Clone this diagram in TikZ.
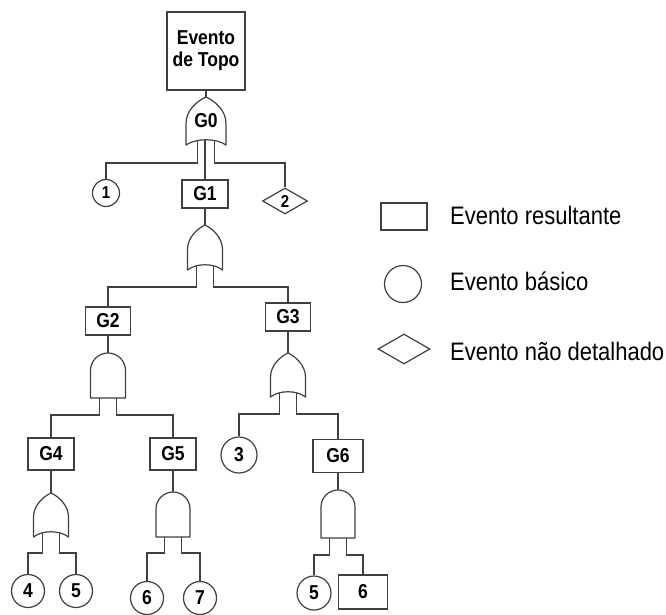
\documentclass[tikz,border=0pt]{standalone}
\usepackage{fontspec}
\usepackage{graphicx}
\usetikzlibrary{shapes.geometric}
\newfontfamily\arialfont{Liberation Sans}
\pgfdeclarelayer{background}
\pgfsetlayers{background,main}

% slightly taller glyphs, as in the drawing
\newcommand{\tall}[1]{\scalebox{1}[1.15]{#1}}

% OR gate: #1 name, #2 centre x, #3 apex y, #4 width, #5 height
\newcommand{\orgate}[5]{%
  \draw[gate] ({#2-#4/2},{#3+#5}) -- ({#2-#4/2},{#3+0.55*#5})
    .. controls ({#2-#4/2},{#3+0.28*#5}) and ({#2-0.22*#4},{#3+0.08*#5}) .. (#2,#3)
    .. controls ({#2+0.22*#4},{#3+0.08*#5}) and ({#2+#4/2},{#3+0.28*#5}) .. ({#2+#4/2},{#3+0.55*#5})
    -- ({#2+#4/2},{#3+#5})
    .. controls ({#2+0.25*#4},{#3+#5-7}) and ({#2-0.25*#4},{#3+#5-7}) .. cycle;
  \coordinate (#1) at (#2,#3);
  \coordinate (#1-a) at ({#2-8.5},{#3+#5-8});
  \coordinate (#1-b) at ({#2+8.5},{#3+#5-8});
  \coordinate (#1-m) at ({#2-1},{#3+#5-8});
}
% AND gate: #1 name, #2 centre x, #3 top y, #4 width, #5 height
\newcommand{\andgate}[5]{%
  \draw[gate] ({#2-#4/2},{#3+#5}) -- ({#2-#4/2},{#3+#4/2})
    .. controls ({#2-#4/2},{#3+#4/2-0.5523*#4/2}) and ({#2-0.5523*#4/2},#3) .. (#2,#3)
    .. controls ({#2+0.5523*#4/2},#3) and ({#2+#4/2},{#3+#4/2-0.5523*#4/2}) .. ({#2+#4/2},{#3+#4/2})
    -- ({#2+#4/2},{#3+#5}) -- cycle;
  \coordinate (#1) at (#2,#3);
  \coordinate (#1-a) at ({#2-8.5},{#3+#5-6});
  \coordinate (#1-b) at ({#2+8.5},{#3+#5-6});
}

\tikzset{
  wire/.style={draw=black!75, line width=1.2pt},
  gate/.style={draw=black!75, line width=1.2pt, fill=white, line join=round},
  lbl/.style={font=\arialfont\bfseries\fontsize{17.5}{22}\selectfont, text=black},
  small/.style={font=\arialfont\bfseries\fontsize{15}{18}\selectfont, text=black},
  eventbox/.style={lbl, draw=black!75, line width=1.2pt, fill=white, rectangle, inner sep=0pt},
  basic/.style={draw=black!75, line width=1.2pt, fill=white, circle, inner sep=0pt},
  undev/.style={draw=black!75, line width=1.2pt, fill=white, diamond, inner sep=0pt},
  legendtext/.style={font=\arialfont\fontsize{22}{26}\selectfont, anchor=base west, inner sep=0pt}
}

\begin{document}
\begin{tikzpicture}[x=1pt, y=-1pt]
\useasboundingbox (0,0) rectangle (666,615);

% ---- events ----
\node[eventbox, minimum width=78pt, minimum height=78pt, align=center] (top) at (206,51) {\tall{Evento}\\\tall{de Topo}};
\node[eventbox, minimum width=46pt, minimum height=28pt] (g1) at (205,194) {\tall{G1}};
\node[basic, small, minimum size=27pt] (c1) at (106,193) {\tall{1}};
\node[undev, small, minimum width=45pt, minimum height=26pt] (d2) at (285,201) {\tall{2}};
\node[eventbox, minimum width=45pt, minimum height=28pt] (g2) at (108,321) {\tall{G2}};
\node[eventbox, minimum width=45pt, minimum height=28pt] (g3) at (288,317) {\tall{G3}};
\node[eventbox, minimum width=46pt, minimum height=32pt] (g4) at (51,454) {\tall{G4}};
\node[eventbox, minimum width=46pt, minimum height=32pt] (g5) at (173,454) {\tall{G5}};
\node[basic, lbl, minimum size=36pt] (c3) at (239,455) {\tall{3}};
\node[eventbox, minimum width=50pt, minimum height=33pt] (g6) at (338,456) {\tall{G6}};
\node[basic, lbl, minimum size=33pt] (c4) at (28,591) {\tall{4}};
\node[basic, lbl, minimum size=33pt] (c5a) at (76,591) {\tall{5}};
\node[basic, lbl, minimum size=33pt] (c6) at (147,598) {\tall{6}};
\node[basic, lbl, minimum size=33pt] (c7) at (200,598) {\tall{7}};
\node[basic, lbl, minimum size=34pt] (c5b) at (314,593) {\tall{5}};
\node[eventbox, minimum width=49pt, minimum height=34pt] (b6) at (363,592) {\tall{6}};

% ---- gates ----
\orgate{or0}{206}{97}{40}{48}
\node[lbl] (g0) at (206,121) {\tall{G0}};
\orgate{or1}{205}{225}{35}{45}
\andgate{and2}{108}{353}{35}{45}
\orgate{or3}{288}{353}{35}{44}
\orgate{or4}{51}{493}{35}{44}
\andgate{and5}{173}{492}{34}{45}
\andgate{and6}{338}{490}{34}{48}

% ---- connectors ----
\begin{pgfonlayer}{background}
\draw[wire] (top.south) -- (or0);
\draw[wire] (or0-a) -- (or0-a |- 0,163) -| (c1.north);
\draw[wire] (or0-m) -- (g1.north);
\draw[wire] (or0-b) -- (or0-b |- 0,163) -| (d2.north);

\draw[wire] (g1.south) -- (or1);
\draw[wire] (or1-a) -- (or1-a |- 0,287) -| (g2.north);
\draw[wire] (or1-b) -- (or1-b |- 0,287) -| (g3.north);

\draw[wire] (g2.south) -- (and2);
\draw[wire] (and2-a) -- (and2-a |- 0,415) -| (g4.north);
\draw[wire] (and2-b) -- (and2-b |- 0,415) -| (g5.north);

\draw[wire] (g3.south) -- (or3);
\draw[wire] (or3-a) -- (or3-a |- 0,414) -| (c3.north);
\draw[wire] (or3-b) -- (or3-b |- 0,414) -| (g6.north);

\draw[wire] (g4.south) -- (or4);
\draw[wire] (or4-a) -- (or4-a |- 0,553) -| (c4.north);
\draw[wire] (or4-b) -- (or4-b |- 0,553) -| (c5a.north);

\draw[wire] (g5.south) -- (and5);
\draw[wire] (and5-a) -- (and5-a |- 0,553) -| (c6.north);
\draw[wire] (and5-b) -- (and5-b |- 0,553) -| (c7.north);

\draw[wire] (g6.south) -- (and6);
\draw[wire] (and6-a) -- (and6-a |- 0,555) -| (c5b.north);
\draw[wire] (and6-b) -- (and6-b |- 0,555) -| (b6.north);
\end{pgfonlayer}

% ---- legend ----
\node[eventbox, minimum width=46pt, minimum height=27pt] (keybox) at (404,216.5) {};
\node[legendtext] (keyboxtext) at (450,224) {\tall{Evento resultante}};
\node[basic, minimum size=37pt] (keycircle) at (403,284) {};
\node[legendtext] (keycircletext) at (450,290) {\tall{Evento básico}};
\node[undev, minimum width=52pt, minimum height=30pt] (keydiamond) at (404,349) {};
\node[legendtext] (keydiamondtext) at (450,360) {\tall{Evento não detalhado}};
\end{tikzpicture}
\end{document}
